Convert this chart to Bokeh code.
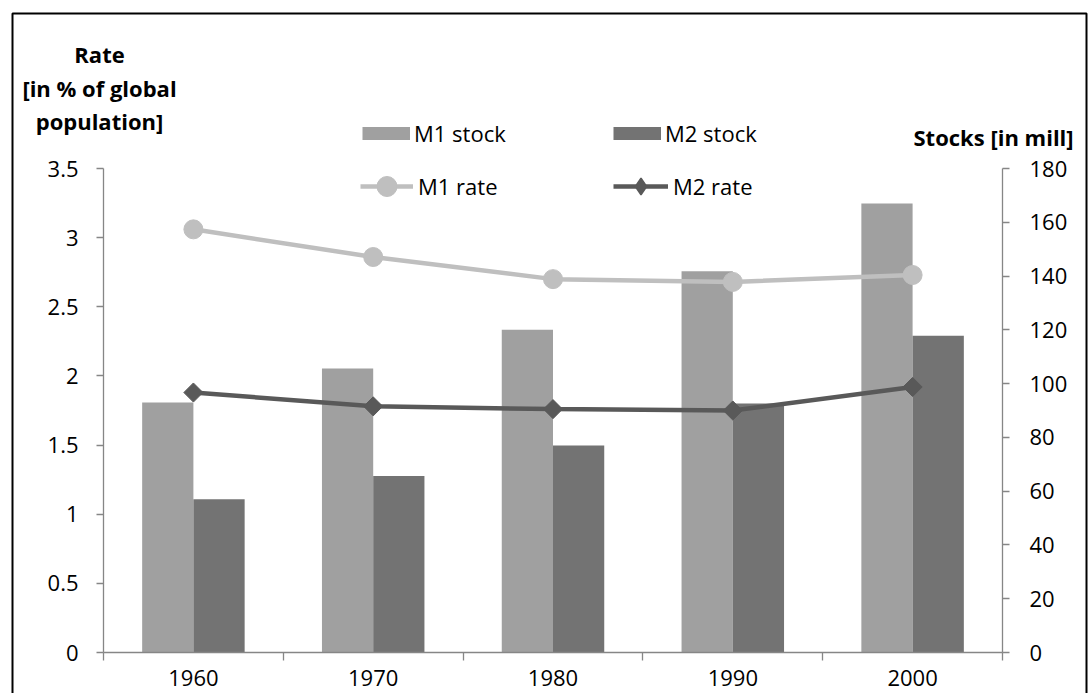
from bokeh.plotting import figure
from bokeh.models import (ColumnDataSource, Range1d, LinearAxis, FixedTicker, Legend,
                          LegendItem, Label, BoxAnnotation, CustomJSTickFormatter,
                          NumeralTickFormatter)
from bokeh.transform import dodge
from bokeh.embed import file_html
from bokeh.resources import INLINE
import numpy as np

# ---- data -------------------------------------------------------------
years = ["1960", "1970", "1980", "1990", "2000"]
m1_stock = [93.0, 105.6, 120.0, 141.8, 167.0]     # millions
m2_stock = [57.0, 65.6, 77.0, 92.6, 117.8]        # millions
m1_rate = [3.06, 2.86, 2.70, 2.68, 2.73]          # % of global population
m2_rate = [1.88, 1.78, 1.76, 1.75, 1.92]          # % of global population
rate_ticks = [0, 0.5, 1, 1.5, 2, 2.5, 3, 3.5]
stock_ticks = [0, 20, 40, 60, 80, 100, 120, 140, 160, 180]

FONT = "Open Sans"
AXIS_GREY = "#868686"
C_M1_STOCK = "#A0A0A0"
C_M2_STOCK = "#737373"
C_M1_RATE = "#BFBFBF"
C_M2_RATE = "#595959"

# ---- page layout (pixels) ----------------------------------------------
W, H = 1092, 693
PL, PR, PT, PB = 103, 1002, 168, 652      # plotting box inside the canvas

n = len(years)
centers = [i + 0.5 for i in range(n)]
bounds = [float(i) for i in range(n + 1)]

# ranges span the whole canvas so that axes sit at fixed spots inside it
ppx = (PR - PL) / n
x_rng = Range1d(-PL / ppx, n + (W - PR) / ppx)
r_lo, r_hi = rate_ticks[0], rate_ticks[-1]
ppr = (PB - PT) / (r_hi - r_lo)
y_rng = Range1d(r_lo - (H - PB) / ppr, r_hi + PT / ppr)
s_lo, s_hi = stock_ticks[0], stock_ticks[-1]
pps = (PB - PT) / (s_hi - s_lo)
s_rng = Range1d(s_lo - (H - PB) / pps, s_hi + PT / pps)

src = ColumnDataSource(dict(x=centers, year=years, m1s=m1_stock, m2s=m2_stock,
                            m1r=m1_rate, m2r=m2_rate))

p = figure(width=W, height=H, output_backend="svg", toolbar_location=None,
           x_range=x_rng, y_range=y_rng, x_axis_location=None, y_axis_location=None,
           min_border=0)
p.extra_y_ranges = {"stocks": s_rng}
p.outline_line_color = None
p.xgrid.visible = False
p.ygrid.visible = False
p.background_fill_color = "white"
p.border_fill_color = "white"

# ---- bars (stocks, right scale) --------------------------------------
bw = 0.285
p.vbar(x=dodge("x", -bw / 2), top="m1s", bottom=s_lo, width=bw, source=src,
       y_range_name="stocks", fill_color=C_M1_STOCK, line_color=None)
p.vbar(x=dodge("x", bw / 2), top="m2s", bottom=s_lo, width=bw, source=src,
       y_range_name="stocks", fill_color=C_M2_STOCK, line_color=None)

# ---- lines (rates, left scale) ---------------------------------------
l1 = p.line("x", "m1r", source=src, line_color=C_M1_RATE, line_width=4.5)
s1 = p.scatter("x", "m1r", source=src, marker="circle", size=19,
               fill_color=C_M1_RATE, line_color=C_M1_RATE)
l2 = p.line("x", "m2r", source=src, line_color=C_M2_RATE, line_width=4.5)
s2 = p.scatter("x", "m2r", source=src, marker="square", angle=np.pi / 4, size=13.5,
               fill_color=C_M2_RATE, line_color=C_M2_RATE)

# legend-only glyphs (nothing is drawn in the plot for them)
nan1 = np.array([np.nan])
sw1 = p.line(x=nan1, y=nan1, line_color=C_M1_STOCK, line_width=13, line_cap="butt")
sw2 = p.line(x=nan1, y=nan1, line_color=C_M2_STOCK, line_width=13, line_cap="butt")
kl2 = p.line(x=nan1, y=nan1, line_color=C_M2_RATE, line_width=4.5)
kd2 = p.scatter(x=nan1, y=nan1, marker="diamond", fill_color=C_M2_RATE,
                line_color=C_M2_RATE, line_width=1.5)


def style_axis(ax, standoff):
    ax.axis_line_color = AXIS_GREY
    ax.axis_line_width = 1.3
    ax.major_tick_line_color = AXIS_GREY
    ax.major_tick_line_width = 1.3
    ax.minor_tick_line_color = AXIS_GREY
    ax.minor_tick_line_width = 1.3
    ax.major_tick_in = 0
    ax.major_tick_out = 7
    ax.minor_tick_in = 0
    ax.minor_tick_out = 0
    ax.major_label_standoff = standoff
    ax.major_label_text_font = FONT
    ax.major_label_text_font_size = "22px"
    ax.major_label_text_color = "#000000"


left_ax = LinearAxis(fixed_location=0, bounds=(r_lo, r_hi),
                     ticker=FixedTicker(ticks=rate_ticks, minor_ticks=[]),
                     formatter=NumeralTickFormatter(format="0.[0]"))
style_axis(left_ax, 18)
p.add_layout(left_ax, "left")

right_ax = LinearAxis(fixed_location=n, bounds=(s_lo, s_hi), y_range_name="stocks",
                      ticker=FixedTicker(ticks=stock_ticks, minor_ticks=[]),
                      formatter=NumeralTickFormatter(format="0"))
style_axis(right_ax, 20)
p.add_layout(right_ax, "right")

bottom_ax = LinearAxis(fixed_location=r_lo, bounds=(0, n),
                       ticker=FixedTicker(ticks=centers, minor_ticks=bounds),
                       formatter=CustomJSTickFormatter(args=dict(years=years),
                                                       code="return years[Math.floor(tick)]"))
style_axis(bottom_ax, 9)
bottom_ax.major_tick_out = 0
bottom_ax.minor_tick_out = 8
p.add_layout(bottom_ax, "below")

# ---- legends ---------------------------------------------------------
def make_legend(items, x, cy, gw, gh, standoff, lw):
    lg = Legend(items=items, location=(x, H - (cy + gh / 2)), orientation="horizontal",
                glyph_width=gw, glyph_height=gh, label_height=gh,
                label_width=lw, label_standoff=standoff, spacing=0,
                padding=0, margin=0, border_line_color=None,
                background_fill_alpha=0, label_text_font=FONT,
                label_text_font_size="22px", label_text_color="#000000")
    p.add_layout(lg)
    return lg


make_legend([LegendItem(label="M1 stock", renderers=[sw1]),
             LegendItem(label="M2 stock", renderers=[sw2])],
            362, 133, 48, 30, 4, 199)
make_legend([LegendItem(label="M1 rate", renderers=[l1, s1])],
            360, 186, 53, 50, 5, 100)
make_legend([LegendItem(label="M2 rate", renderers=[kl2, kd2])],
            613, 186, 55, 42, 5, 100)

# ---- axis titles ------------------------------------------------------
for txt, cy in [("Rate", 53), ("[in % of global", 87), ("population]", 120)]:
    p.add_layout(Label(x=99, y=H - cy, x_units="screen", y_units="screen", text=txt,
                       text_font=FONT, text_font_style="bold", text_font_size="22px",
                       text_align="center", text_baseline="middle", text_color="#000000"))
p.add_layout(Label(x=913, y=H - 136, x_units="screen", y_units="screen",
                   text="Stocks [in mill]", text_font=FONT, text_font_style="bold",
                   text_font_size="22px", text_align="left", text_baseline="middle",
                   text_color="#000000"))

# outer frame
p.add_layout(BoxAnnotation(left=12, right=1086, top=H - 13, bottom=-20,
                           left_units="screen", right_units="screen",
                           top_units="screen", bottom_units="screen",
                           fill_alpha=0, line_color="black", line_alpha=1.0,
                           line_width=2))

open("out.html", "w").write(file_html(p, INLINE))
